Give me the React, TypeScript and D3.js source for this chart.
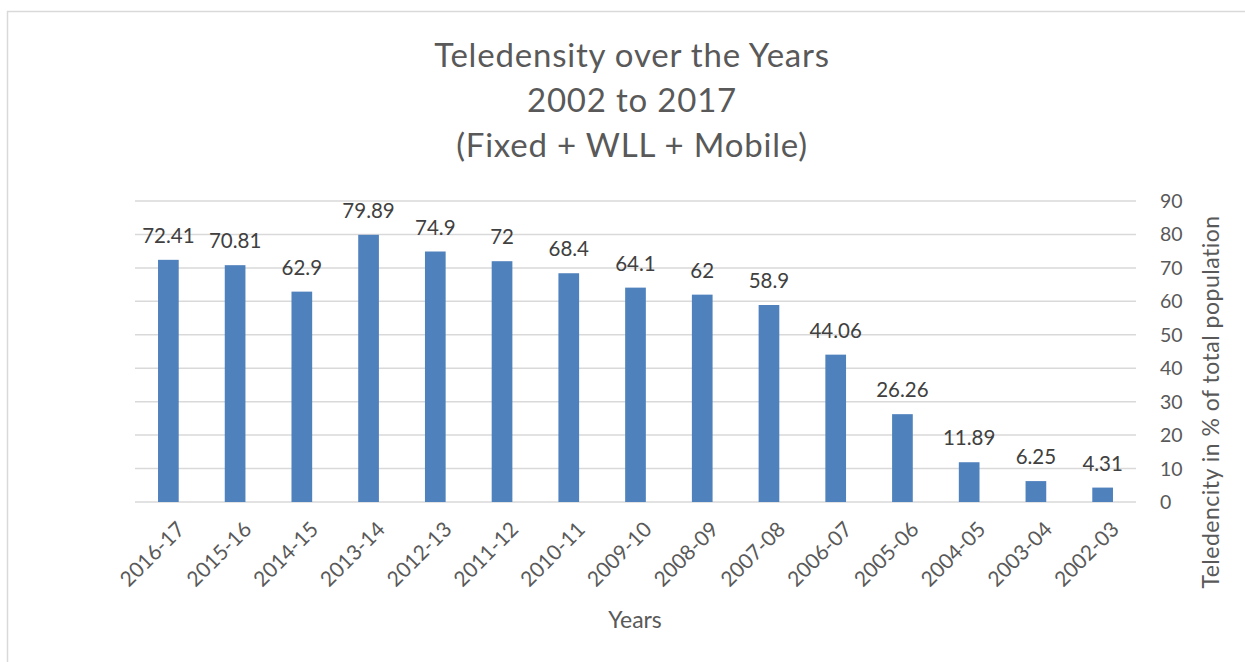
import { useEffect, useRef } from "react";
import * as d3 from "d3";

const WIDTH = 1245;
const HEIGHT = 662;
const MARGIN = { top: 201, right: 109, bottom: 160, left: 135 };
const FONT = "Lato, 'Open Sans', sans-serif";

const years = [
  "2016-17", "2015-16", "2014-15", "2013-14", "2012-13", "2011-12", "2010-11", "2009-10",
  "2008-09", "2007-08", "2006-07", "2005-06", "2004-05", "2003-04", "2002-03",
];
const teledensity = [72.41, 70.81, 62.9, 79.89, 74.9, 72, 68.4, 64.1, 62, 58.9, 44.06, 26.26, 11.89, 6.25, 4.31];
const yTicks = [0, 10, 20, 30, 40, 50, 60, 70, 80, 90];
const titleLines = ["Teledensity over the Years", "2002 to 2017", "(Fixed + WLL + Mobile)"];

export default function App() {
  const ref = useRef<SVGSVGElement>(null);

  useEffect(() => {
    const svg = d3.select(ref.current);
    svg.selectAll("*").remove();

    const boundsWidth = WIDTH - MARGIN.left - MARGIN.right;
    const boundsHeight = HEIGHT - MARGIN.top - MARGIN.bottom;

    const x = d3.scaleBand().domain(years).range([0, boundsWidth]).paddingInner(0.69).paddingOuter(0.345);
    const y = d3.scaleLinear().domain([0, 90]).range([boundsHeight, 0]);

    // outer chart border (runs off the page on the right and bottom)
    svg.append("rect")
      .attr("x", 7.5).attr("y", 11.5)
      .attr("width", WIDTH).attr("height", HEIGHT)
      .attr("fill", "none").attr("stroke", "#d9d9d9").attr("stroke-width", 1.5);

    svg.append("g")
      .selectAll("text")
      .data(titleLines)
      .join("text")
      .attr("x", 632)
      .attr("y", (_, i) => 67 + i * 45)
      .attr("text-anchor", "middle")
      .style("font-family", FONT)
      .style("font-size", "33px")
      .style("letter-spacing", "0.8px")
      .attr("fill", "#595959")
      .text((d) => d);

    const g = svg.append("g").attr("transform", `translate(${MARGIN.left},${MARGIN.top})`);

    g.append("g")
      .selectAll("line")
      .data(yTicks)
      .join("line")
      .attr("x1", 0).attr("x2", boundsWidth)
      .attr("y1", (d) => y(d)).attr("y2", (d) => y(d))
      .attr("stroke", "#d9d9d9").attr("stroke-width", 1.5);

    g.append("g")
      .selectAll("rect")
      .data(teledensity)
      .join("rect")
      .attr("x", (_, i) => x(years[i])!)
      .attr("y", (d) => y(d))
      .attr("width", x.bandwidth())
      .attr("height", (d) => boundsHeight - y(d))
      .attr("fill", "#4f81bd");

    g.append("g")
      .selectAll("text")
      .data(teledensity)
      .join("text")
      .attr("x", (_, i) => x(years[i])! + x.bandwidth() / 2)
      .attr("y", (d) => y(d) - 17)
      .attr("text-anchor", "middle")
      .style("font-family", FONT)
      .style("font-size", "20.5px")
      .attr("fill", "#404040")
      .text((d) => String(d));

    // right axis labels
    g.append("g")
      .selectAll("text")
      .data(yTicks)
      .join("text")
      .attr("x", boundsWidth + 24)
      .attr("y", (d) => y(d))
      .attr("dy", "0.36em")
      .style("font-family", FONT)
      .style("font-size", "19.5px")
      .attr("fill", "#595959")
      .text((d) => String(d));

    // category labels, rotated
    g.append("g")
      .selectAll("text")
      .data(years)
      .join("text")
      .attr("transform", (d) => `translate(${x(d)! + x.bandwidth() / 2 + 7},${boundsHeight + 18}) rotate(-45)`)
      .attr("text-anchor", "end")
      .attr("dy", "0.72em")
      .style("font-family", FONT)
      .style("font-size", "21px")
      .attr("fill", "#595959")
      .text((d) => d);

    svg.append("text")
      .attr("x", 635).attr("y", 628)
      .attr("text-anchor", "middle")
      .style("font-family", FONT)
      .style("font-size", "23px")
      .attr("fill", "#595959")
      .text("Years");

    svg.append("text")
      .attr("transform", `translate(1219,402) rotate(-90)`)
      .attr("text-anchor", "middle")
      .style("font-family", FONT)
      .style("font-size", "23px")
      .style("letter-spacing", "0.5px")
      .attr("fill", "#595959")
      .text("Teledencity in % of total population");
  }, []);

  return <svg ref={ref} width={WIDTH} height={HEIGHT} style={{ position: "absolute", left: 0, top: 0 }} />;
}
